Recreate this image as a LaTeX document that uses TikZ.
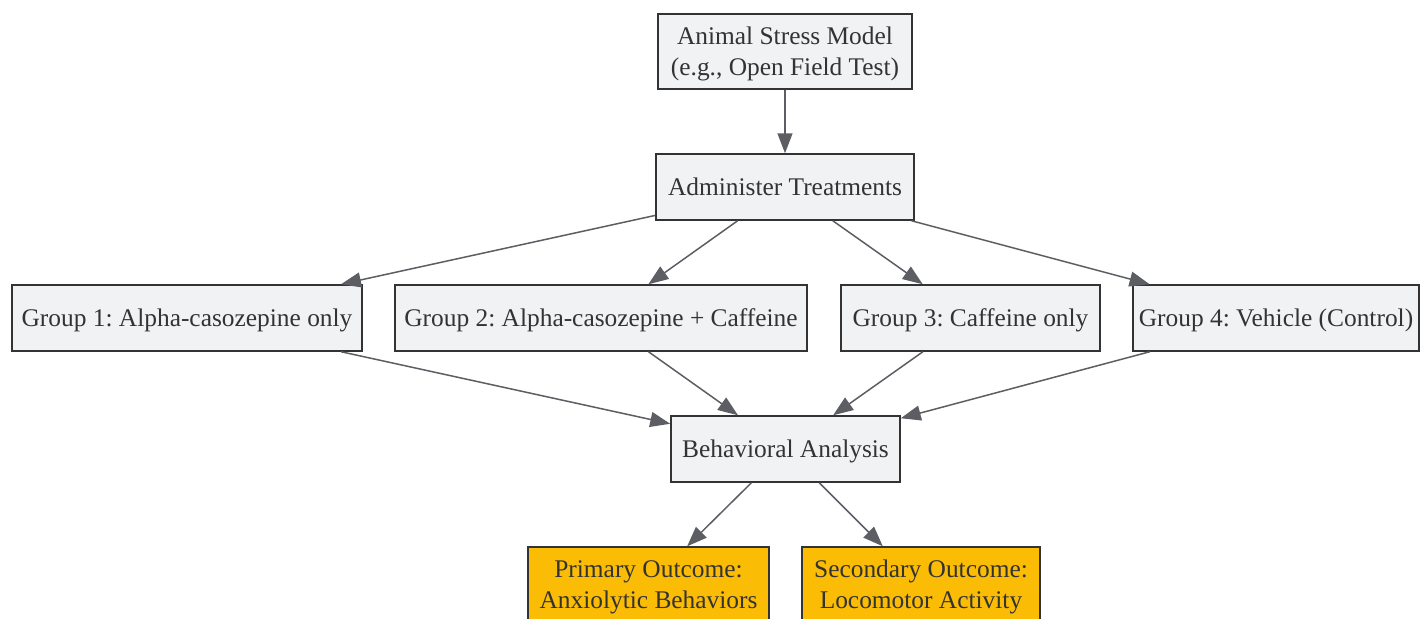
\documentclass[tikz,border=0pt]{standalone}
\usepackage{fontspec}
\setmainfont{Liberation Serif}
\frenchspacing
\usetikzlibrary{arrows.meta}
\definecolor{boxfill}{RGB}{241,242,244}
\definecolor{boxline}{RGB}{51,51,51}
\definecolor{edgegray}{RGB}{92,94,99}
\definecolor{outcomefill}{RGB}{251,188,5}
\tikzset{stepbox/.style={draw=boxline, fill=boxfill, line width=0.75pt, text=boxline,
                         inner xsep=0, inner ysep=0, align=center, minimum height=33pt,
                         text depth=-3.5pt, font=\fontsize{12.7}{15.5}\selectfont},
         outcome/.style={stepbox, fill=outcomefill, minimum height=37.5pt},
         flow/.style={draw=edgegray, line width=0.75pt,
                      -{Triangle[length=10pt, width=7.5pt, fill=edgegray]}}}

\begin{document}
\begin{tikzpicture}[x=0.5pt, y=-0.5pt]
    \useasboundingbox (0, 0) rectangle (1420, 618);
    % Top of the flow
    \node[stepbox, minimum width=127pt, minimum height=37.5pt] (stress) at (785, 51.5)
        {Animal Stress Model\\(e.g., Open Field Test)};
    \node[stepbox, minimum width=129pt] (admin) at (785, 187) {Administer Treatments};
    % Treatment groups
    \node[stepbox, minimum width=175pt]   (g1) at (187, 318)   {Group 1: Alpha-casozepine only};
    \node[stepbox, minimum width=206pt]   (g2) at (601, 318)   {Group 2: Alpha-casozepine + Caffeine};
    \node[stepbox, minimum width=129.5pt] (g3) at (970.5, 318) {Group 3: Caffeine only};
    \node[stepbox, minimum width=143pt]   (g4) at (1276, 318)  {Group 4: Vehicle (Control)};
    \node[stepbox, minimum width=114.5pt] (behav) at (785.5, 449) {Behavioral Analysis};
    % Outcomes
    \node[outcome, minimum width=120.5pt] (primary) at (648.5, 584.5)
        {Primary Outcome:\\Anxiolytic Behaviors};
    \node[outcome, minimum width=119pt] (secondary) at (921, 584.5)
        {Secondary Outcome:\\Locomotor Activity};
    \draw[flow] (stress) -- (admin);
    \foreach \g in {g1, g2, g3, g4} {
        \draw[flow] (admin) -- (\g);
        \draw[flow] (\g) -- (behav);
    }
    \draw[flow] (behav) -- (primary);
    \draw[flow] (behav) -- (secondary);
\end{tikzpicture}
\end{document}
